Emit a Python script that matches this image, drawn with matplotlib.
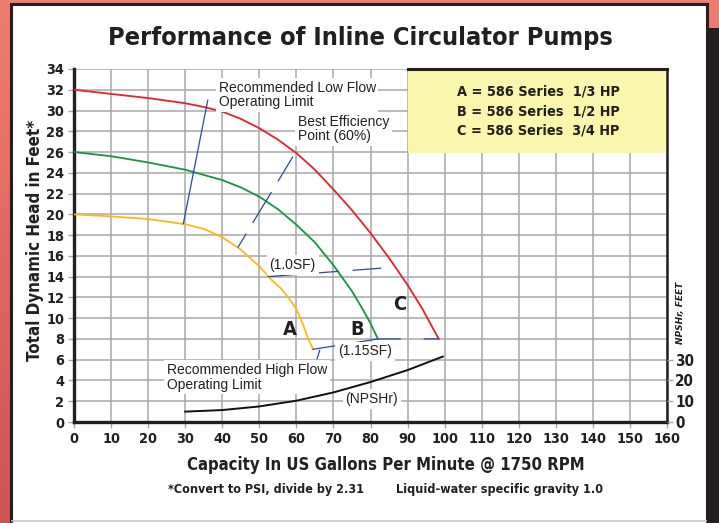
import numpy as np
import matplotlib
matplotlib.use('Agg')
import matplotlib.pyplot as plt
import matplotlib.font_manager as fm
from matplotlib.patches import Rectangle
from matplotlib.colors import LinearSegmentedColormap

# Fonte condensada, se existir
cond_files = [f for f in fm.fontManager.ttflist
              if ('Condensed' in f.fname or 'Narrow' in f.fname) and 'Bold' in f.fname
              and 'Oblique' not in f.fname and 'Italic' not in f.fname]
COND_FILE = cond_files[0].fname if cond_files else None
K = 1.15 if COND_FILE else 1.0


def fonte(size, italic=False):
    if COND_FILE and not italic:
        return fm.FontProperties(fname=COND_FILE, size=size * K)
    return fm.FontProperties(family='DejaVu Sans', weight='bold',
                             style='italic' if italic else 'normal', size=size)


# Dados das curvas (GPM, pés)
a_x = [0, 10, 20, 30, 35, 40, 45, 50, 53, 56, 58, 60, 62, 63.2, 64.5]
a_y = [20, 19.8, 19.55, 19.05, 18.6, 17.8, 16.6, 15.0, 13.8, 12.8, 11.9, 10.9, 9.2, 8.0, 7.0]
b_x = [0, 10, 20, 30, 40, 45, 50, 55, 60, 65, 70, 75, 78, 80, 82]
b_y = [26, 25.6, 25.0, 24.3, 23.3, 22.6, 21.7, 20.5, 19.0, 17.3, 15.1, 12.6, 10.8, 9.5, 8.0]
c_x = [0, 10, 20, 30, 35, 40, 45, 50, 55, 60, 65, 70, 75, 80, 85, 90, 94, 98.4]
c_y = [32, 31.6, 31.2, 30.7, 30.35, 29.9, 29.2, 28.3, 27.2, 25.9, 24.3, 22.4, 20.4, 18.2, 15.8, 13.2, 10.9, 8.0]

# NPSHr (pés, eixo direito)
npsh_x = [30, 40, 50, 60, 70, 80, 90, 99.5]
npsh_y = [5.0, 5.75, 7.5, 10.25, 14.25, 19.25, 25.0, 31.5]

# Linhas de referência
low_x = [29.5, 36.1]
low_y = [19.1, 31.0]
bep_x = [44.2, 61.0]
bep_y = [16.8, 26.7]
sf10_x = [52.3, 86.0]
sf10_y = [14.0, 14.9]
sf115_x = [64.5, 82.0, 88.0, np.nan, 94.5, 98.4]
sf115_y = [7.0, 8.0, 8.0, np.nan, 8.0, 8.0]
high_x = [66.3, 65.6]
high_y = [6.9, 6.1]

x_ticks = list(range(0, 161, 10))
y_ticks = list(range(0, 35, 2))
npsh_ticks = [0, 10, 20, 30]

legenda = ['A = 586 Series  1/3 HP', 'B = 586 Series  1/2 HP', 'C = 586 Series  3/4 HP']

W, H = 719, 523
escuro = '#231f20'
fig = plt.figure(figsize=(W / 100, H / 100), dpi=100)

# Fundo
bg = fig.add_axes([0, 0, 1, 1], zorder=-10)
grad = np.linspace(0, 1, 256).reshape(-1, 1)
cmap = LinearSegmentedColormap.from_list('bg', ['#f07d71', '#cd5450'])
bg.imshow(grad, extent=[0, 1, 0, 1], aspect='auto', cmap=cmap, origin='upper')
bg.add_patch(Rectangle((11 / W, -0.02), (707 - 11) / W, 1.02 - 4 / H,
                       facecolor='white', edgecolor=escuro, lw=2.2, transform=bg.transAxes))
bg.add_patch(Rectangle((708 / W, 0), 1, 1 - 28 / H, facecolor=escuro, edgecolor='none',
                       transform=bg.transAxes))
bg.plot([12 / W, 706 / W], [1 - 521 / H, 1 - 521 / H], color='#c8c8c8', lw=1.2, transform=bg.transAxes)
bg.set_xlim(0, 1)
bg.set_ylim(0, 1)
bg.axis('off')

# Eixo principal
ax = fig.add_axes([74 / W, 1 - 422 / H, (667 - 74) / W, (422 - 69) / H])
ax.set_facecolor('white')
ax.set_xlim(0, 160)
ax.set_ylim(0, 34)
ax.set_xticks(x_ticks)
ax.set_yticks(y_ticks)
ax.grid(True, color='#a8a8a8', lw=1.1)
ax.set_axisbelow(True)
ax.spines['top'].set_visible(False)
ax.spines['left'].set_linewidth(2.4)
ax.spines['bottom'].set_linewidth(2.4)
ax.spines['right'].set_linewidth(1.8)
for s in ['left', 'bottom', 'right']:
    ax.spines[s].set_color(escuro)
ax.tick_params(axis='both', length=4, width=1, color='#a8a8a8', pad=3)
for lab in ax.get_xticklabels() + ax.get_yticklabels():
    lab.set_fontproperties(fonte(9))
    lab.set_color(escuro)

# Caixa da legenda
ax.add_patch(Rectangle((90, 25.9), 70, 8.1, facecolor='#faf6ae', edgecolor='none', zorder=2))
ax.plot([90, 160], [34, 34], color=escuro, lw=2.2, zorder=3, clip_on=False)
for i, t in enumerate(legenda):
    ax.text(103.3, 31.8 - i * 1.85, t, fontproperties=fonte(9),
            color=escuro, va='center', ha='left', zorder=4)

# Curvas
ax.plot(a_x, a_y, color='#fdb913', lw=1.3, zorder=5)
ax.plot(b_x, b_y, color='#1a9440', lw=1.3, zorder=5)
ax.plot(c_x, c_y, color='#e8202a', lw=1.3, zorder=5)

# Linhas azuis
azul = '#2a4a9c'
ax.plot(low_x, low_y, color=azul, lw=0.9, zorder=6)
ax.plot(bep_x, bep_y, color=azul, lw=0.9, zorder=6, dashes=(13, 10, 29, 10, 23, 10))
ax.plot(sf10_x, sf10_y, color=azul, lw=0.9, zorder=6, dashes=(23, 11))
ax.plot(sf115_x, sf115_y, color=azul, lw=0.9, zorder=6)
ax.plot(high_x, high_y, color=azul, lw=0.9, zorder=6)

# Rótulos
caixa = dict(facecolor='white', edgecolor='none', pad=2)
txt = dict(fontfamily='Liberation Sans', fontsize=10, color=escuro, zorder=7, bbox=caixa)
ax.text(39, 31.5, 'Recommended Low Flow\nOperating Limit', ha='left', va='center', linespacing=1.05, **txt)
ax.text(60.4, 28.2, 'Best Efficiency\nPoint (60%)', ha='left', va='center', linespacing=1.05, **txt)
ax.text(25.1, 4.3, 'Recommended High Flow\nOperating Limit', ha='left', va='center', linespacing=1.05, **txt)
ax.text(59, 15.1, '(1.0SF)', ha='center', va='center', **txt)
ax.text(78.5, 6.8, '(1.15SF)', ha='center', va='center', **txt)
ax.text(80.3, 2.2, '(NPSHr)', ha='center', va='center', **txt)

for letra, lx, ly in [('A', 58.2, 8.9), ('B', 76.5, 8.9), ('C', 87.9, 11.3)]:
    ax.text(lx, ly, letra, fontproperties=fonte(12.5), color=escuro,
            ha='center', va='center', zorder=7)

# Eixo NPSHr
ax2 = ax.twinx()
ax2.set_ylim(0, 170)
ax2.set_yticks(npsh_ticks)
for s in ax2.spines.values():
    s.set_visible(False)
ax2.tick_params(axis='y', length=4, width=1, color='#a8a8a8', pad=2)
for lab in ax2.get_yticklabels():
    lab.set_fontproperties(fonte(9.5))
    lab.set_color(escuro)
ax2.plot(npsh_x, npsh_y, color='#111111', lw=1.4, zorder=5)
ax2.set_zorder(ax.get_zorder() + 1)
ax2.patch.set_visible(False)

# Títulos
fig.text(360 / W, 1 - 38 / H, 'Performance of Inline Circulator Pumps', fontproperties=fonte(15.8),
         color=escuro, ha='center', va='center')
fig.text(35 / W, 1 - 240 / H, 'Total Dynamic Head in Feet*', fontproperties=fonte(10.6),
         color=escuro, ha='center', va='center', rotation=90)
fig.text(386 / W, 1 - 465 / H, 'Capacity In US Gallons Per Minute @ 1750 RPM', fontproperties=fonte(10.4),
         color=escuro, ha='center', va='center')
fig.text(266 / W, 1 - 489 / H, '*Convert to PSI, divide by 2.31', fontproperties=fonte(7.8),
         color=escuro, ha='center', va='center')
fig.text(499 / W, 1 - 489 / H, 'Liquid-water specific gravity 1.0', fontproperties=fonte(7.8),
         color=escuro, ha='center', va='center')
fig.text(681 / W, 1 - 313 / H, 'NPSHr, FEET', fontproperties=fonte(6.5, italic=True),
         color=escuro, ha='center', va='center', rotation=90)

fig.savefig('out.png', dpi=100)
